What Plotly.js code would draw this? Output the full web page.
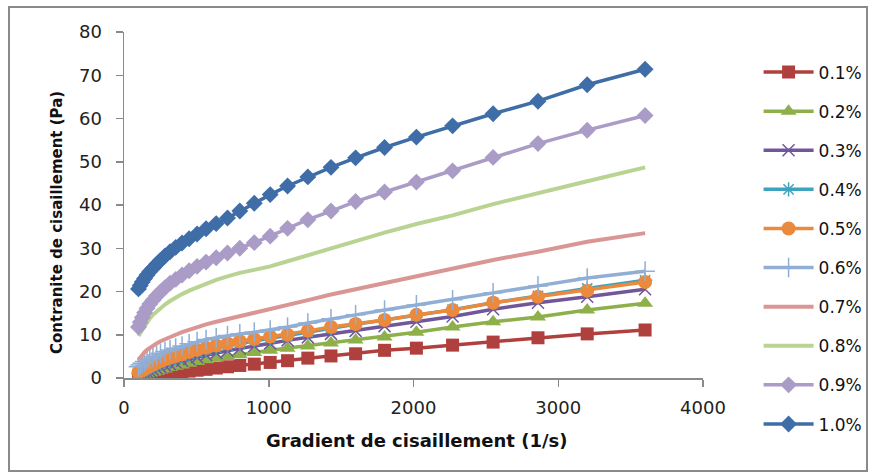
<!DOCTYPE html>
<html>
<head>
<meta charset="utf-8">
<script src="https://cdn.plot.ly/plotly-3.0.1.min.js"></script>
<style>
  html, body { margin: 0; padding: 0; background: #fff; }
  #chart { position: absolute; left: 0; top: 0; width: 874px; height: 475px; }
  #frame { position: absolute; left: 8px; top: 6px; width: 856px; height: 462px;
           border: 2px solid #8a8a8a; pointer-events: none; }
</style>
</head>
<body>
<div id="chart"></div>
<div id="frame"></div>
<script>
// Shear rate (1/s)
const shearRate = [100, 112, 126, 142, 159, 178, 200, 225, 252, 283, 318, 357, 401, 450, 505, 567,
                   637, 715, 800, 900, 1010, 1130, 1270, 1430, 1600, 1800, 2020, 2270, 2550, 2860, 3200, 3600];

const seriesNames = ["0.1%", "0.2%", "0.3%", "0.4%", "0.5%", "0.6%", "0.7%", "0.8%", "0.9%", "1.0%"];

// Shear stress (Pa)
const s01 = [0.0, 0.1, 0.1, 0.2, 0.3, 0.4, 0.5, 0.6, 0.7, 0.9, 1.0, 1.2, 1.4, 1.6, 1.8, 2.0,
             2.3, 2.6, 2.9, 3.2, 3.6, 4.0, 4.6, 5.1, 5.6, 6.4, 6.9, 7.6, 8.3, 9.3, 10.2, 11.1];
const s02 = [0.4, 0.5, 0.6, 0.7, 0.9, 1.1, 1.3, 1.5, 1.8, 2.1, 2.4, 2.7, 3.0, 3.4, 3.8, 4.2,
             4.6, 5.0, 5.4, 5.9, 6.4, 6.9, 7.4, 8.1, 8.8, 9.5, 10.6, 11.8, 13.0, 14.1, 15.7, 17.3];
const s03 = [0.6, 0.8, 1.0, 1.2, 1.4, 1.6, 1.9, 2.2, 2.5, 2.9, 3.2, 3.6, 4.0, 4.4, 4.8, 5.3,
             5.8, 6.3, 6.8, 7.4, 8.0, 8.7, 9.4, 10.2, 10.9, 12.0, 13.0, 14.2, 15.9, 17.4, 18.8, 20.5];
const s04 = [1.0, 1.3, 1.6, 1.9, 2.2, 2.5, 2.8, 3.1, 3.4, 3.8, 4.2, 4.6, 5.0, 5.5, 6.0, 6.5,
             7.0, 7.5, 8.0, 8.6, 9.2, 9.8, 10.6, 11.5, 12.4, 13.4, 14.5, 15.8, 17.4, 19.0, 20.7, 22.6];
const s05 = [1.4, 1.6, 1.8, 2.1, 2.4, 2.8, 3.1, 3.5, 3.9, 4.3, 4.7, 5.1, 5.5, 6.0, 6.5, 7.0,
             7.5, 8.0, 8.5, 9.0, 9.6, 10.0, 10.9, 11.8, 12.5, 13.4, 14.6, 15.7, 17.4, 18.8, 20.2, 22.2];
const s06 = [2.6, 3.0, 3.4, 3.8, 4.2, 4.5, 4.9, 5.3, 5.7, 6.1, 6.5, 6.9, 7.4, 7.9, 8.4, 8.9,
             9.3, 9.8, 10.2, 10.6, 11.1, 11.8, 12.7, 13.7, 14.6, 15.7, 16.9, 18.1, 19.7, 21.3, 23.1, 24.7];
const s07 = [4.2, 4.8, 5.4, 6.0, 6.5, 7.0, 7.5, 8.0, 8.5, 9.0, 9.5, 10.0, 10.6, 11.2, 11.8, 12.4,
             13.0, 13.6, 14.2, 15.0, 15.8, 16.9, 18.0, 19.3, 20.5, 21.9, 23.4, 25.1, 27.3, 29.2, 31.5, 33.5];
const s08 = [9.7, 10.3, 11.2, 12.1, 13.0, 13.8, 14.6, 15.4, 16.2, 17.0, 17.8, 18.6, 19.4, 20.2, 21.0, 21.8,
             22.7, 23.5, 24.3, 25.0, 25.8, 27.0, 28.4, 30.0, 31.8, 33.6, 35.6, 37.6, 40.2, 42.8, 45.5, 48.7];
const s09 = [11.8, 12.9, 14.0, 15.1, 16.1, 17.1, 18.0, 19.0, 19.9, 20.9, 21.9, 22.8, 23.8, 24.8, 25.8, 26.8,
             27.8, 28.9, 30.0, 31.3, 32.8, 34.6, 36.6, 38.6, 40.8, 43.0, 45.3, 47.9, 51.0, 54.2, 57.3, 60.7];
const s10 = [20.6, 21.4, 22.2, 23.0, 23.8, 24.6, 25.4, 26.3, 27.2, 28.2, 29.2, 30.2, 31.2, 32.2, 33.3, 34.5,
             35.7, 37.0, 38.6, 40.4, 42.4, 44.4, 46.5, 48.7, 50.9, 53.3, 55.7, 58.3, 61.1, 64.0, 67.8, 71.4];

const xTicks = [0, 1000, 2000, 3000, 4000];
const yTicks = [0, 10, 20, 30, 40, 50, 60, 70, 80];
const xTitle = "Gradient de cisaillement (1/s)";
const yTitle = "Contranite de cisaillement (Pa)";

const allSeries = [s01, s02, s03, s04, s05, s06, s07, s08, s09, s10];
const colors = ["#B0403D", "#8DB04B", "#715699", "#3FA2BE", "#EB8A3D", "#90AED6", "#D99694", "#B9D393", "#AA9CC6", "#3F6DA8"];
const markerStyles = [
  {symbol: "square", size: 13},
  {symbol: "triangle-up", size: 14},
  {symbol: "x-thin-open", size: 12, lineW: 1.5},
  {symbol: "asterisk-open", size: 12, lineW: 1.5},
  {symbol: "circle", size: 14},
  {symbol: "cross-thin-open", size: 14, lineW: 1.5},
  null,
  null,
  {symbol: "diamond", size: 13},
  {symbol: "diamond", size: 13}
];

const traces = allSeries.map((ys, i) => {
  const ms = markerStyles[i];
  const t = {
    x: shearRate, y: ys, name: seriesNames[i], type: "scatter",
    legendgroup: "g" + i,
    line: {color: colors[i], width: ms ? 3.5 : 4},
    mode: ms ? "lines+markers" : "lines"
  };
  if (ms) {
    t.marker = {symbol: ms.symbol, size: ms.size, color: colors[i],
                line: {color: colors[i], width: ms.lineW || 0}};
  }
  return t;
});

const font = "'DejaVu Sans', Verdana, sans-serif";

const layout = {
  width: 874, height: 475,
  margin: {l: 124, r: 171, t: 32, b: 97, autoexpand: false},
  paper_bgcolor: "#fff", plot_bgcolor: "#fff",
  font: {family: font, size: 16, color: "#222"},
  showlegend: true,
  legend: {x: 1.096, y: 0.935, xanchor: "left", yanchor: "top",
           font: {family: font, size: 17, color: "#111"},
           itemwidth: 50, maxheight: 440,
           tracegroupgap: 14, bgcolor: "rgba(0,0,0,0)"},
  xaxis: {
    range: [0, 4000], tickvals: xTicks, ticktext: xTicks.map(String),
    showgrid: false, zeroline: false, showline: true, linecolor: "#8a8a8a", linewidth: 1.5,
    ticks: "outside", ticklen: 7, tickcolor: "#8a8a8a", tickwidth: 1.5,
    ticklabelstandoff: 6,
    tickfont: {family: font, size: 18, color: "#222"}
  },
  yaxis: {
    range: [0, 80], tickvals: yTicks, ticktext: yTicks.map(String),
    showgrid: false, zeroline: false, showline: true, linecolor: "#8a8a8a", linewidth: 1.5,
    ticks: "outside", ticklen: 7, tickcolor: "#8a8a8a", tickwidth: 1.5,
    ticklabelstandoff: 10,
    tickfont: {family: font, size: 18, color: "#222"}
  },
  annotations: [
    {text: "<b>" + xTitle + "</b>", xref: "paper", yref: "paper",
     x: (416 - 124) / 579, y: -(440 - 378) / 346, xanchor: "center", yanchor: "middle",
     showarrow: false, font: {family: font, size: 18, color: "#111"}},
    {text: "<b>" + yTitle + "</b>", xref: "paper", yref: "paper", textangle: -90,
     x: -(124 - 57) / 579, y: (378 - 223) / 346, xanchor: "center", yanchor: "middle",
     showarrow: false, font: {family: font, size: 15, color: "#111"}}
  ]
};

Plotly.newPlot("chart", traces, layout, {displayModeBar: false, staticPlot: true});
</script>
</body>
</html>
